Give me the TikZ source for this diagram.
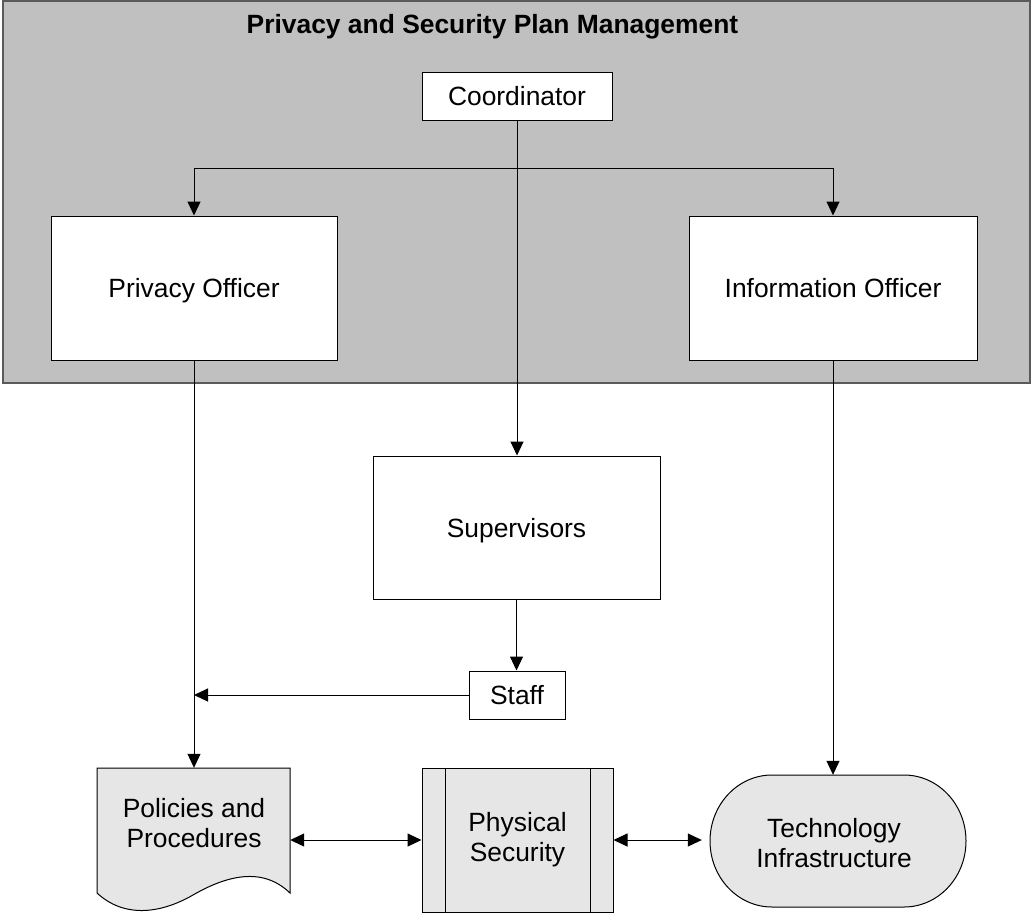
\documentclass[tikz,border=0pt]{standalone}
\usepackage{fontspec}
\setmainfont{Liberation Sans}
\usetikzlibrary{arrows.meta}
\definecolor{bggray}{RGB}{192,192,192}
\definecolor{bgline}{RGB}{90,90,90}
\definecolor{shapefill}{RGB}{230,230,230}
\tikzset{
  lbl/.style={font=\fontsize{26.4}{30}\selectfont, align=center},
  one/.style={text height=19pt, text depth=0pt},
  box/.style={draw=black, line width=1pt, fill=white, rectangle, inner sep=0pt, lbl},
  ghost/.style={rectangle, inner sep=0pt, lbl},
  arr/.style={line width=1pt, -{Triangle[length=14pt,width=13pt]}},
  darr/.style={line width=1pt, {Triangle[length=14pt,width=13pt]}-{Triangle[length=14pt,width=13pt]}},
}
\begin{document}
\begin{tikzpicture}[x=1pt, y=-1pt]
\useasboundingbox (0,0) rectangle (1032,915);
% container
\node[draw=bgline, fill=bggray, line width=1.5pt, rectangle, inner sep=0pt,
      minimum width=1027pt, minimum height=382pt] (bg) at (516.5,192) {};
\node[font=\fontsize{26.4}{30}\selectfont\bfseries, one, inner sep=0pt] (title) at (492.5,24) {Privacy and Security Plan Management};
% boxes
\node[box, one, minimum width=190pt, minimum height=47pt] (coord) at (517,96.5) {Coordinator};
\node[box, one, minimum width=286pt, minimum height=144pt] (priv) at (194,288) {Privacy Officer};
\node[box, one, minimum width=288pt, minimum height=144pt] (info) at (833,288) {Information Officer};
\node[box, one, minimum width=287pt, minimum height=143pt] (sup) at (516.5,527.5) {Supervisors};
\node[box, one, minimum width=96pt, minimum height=48pt] (staff) at (517,695) {Staff};
% document shape
\draw[line width=1pt, fill=shapefill]
  (97,768) -- (290,768) -- (290,893)
  .. controls (262,866) and (226,876) .. (193,895)
  .. controls (160,914) and (124,918) .. (97,893) -- cycle;
\node[ghost, minimum width=193pt, minimum height=126pt] (pol) at (193.5,831) {};
\node[lbl] (poltext) at (194,823) {Policies and\\Procedures};
% predefined process
\node[box, fill=shapefill, minimum width=191pt, minimum height=144pt] (phys) at (517.5,840) {Physical\\Security};
\draw[line width=1pt] ([xshift=23.5pt]phys.north west) -- ([xshift=23.5pt]phys.south west);
\draw[line width=1pt] ([xshift=-23.5pt]phys.north east) -- ([xshift=-23.5pt]phys.south east);
% terminator
\draw[line width=1pt, fill=shapefill]
  (772,775) -- (904,775) arc[start angle=-90, end angle=90, x radius=62, y radius=66]
  -- (772,907) arc[start angle=90, end angle=270, x radius=62, y radius=66] -- cycle;
\node[ghost, minimum width=264pt, minimum height=132pt] (tech) at (834,841) {};
\node[lbl] (techtext) at (834,843) {Technology\\Infrastructure};
% connectors
\coordinate (j) at (517,168);
\draw[line width=1pt] (coord.south) -- (j);
\draw[arr] (j) -| (priv.north);
\draw[arr] (j) -| (info.north);
\draw[arr] (coord.south) -- (coord.south |- sup.north);
\draw[arr] (priv.south) -- (priv.south |- pol.north);
\draw[arr] (info.south) -- (info.south |- tech.north);
\draw[arr] (sup.south) -- (sup.south |- staff.north);
\draw[arr] (staff.west) -- (staff.west -| priv.south);
\draw[darr] (phys.west -| pol.east) -- (phys.west);
\draw[darr] (phys.east) -- (phys.east -| tech.west);
\end{tikzpicture}
\end{document}
